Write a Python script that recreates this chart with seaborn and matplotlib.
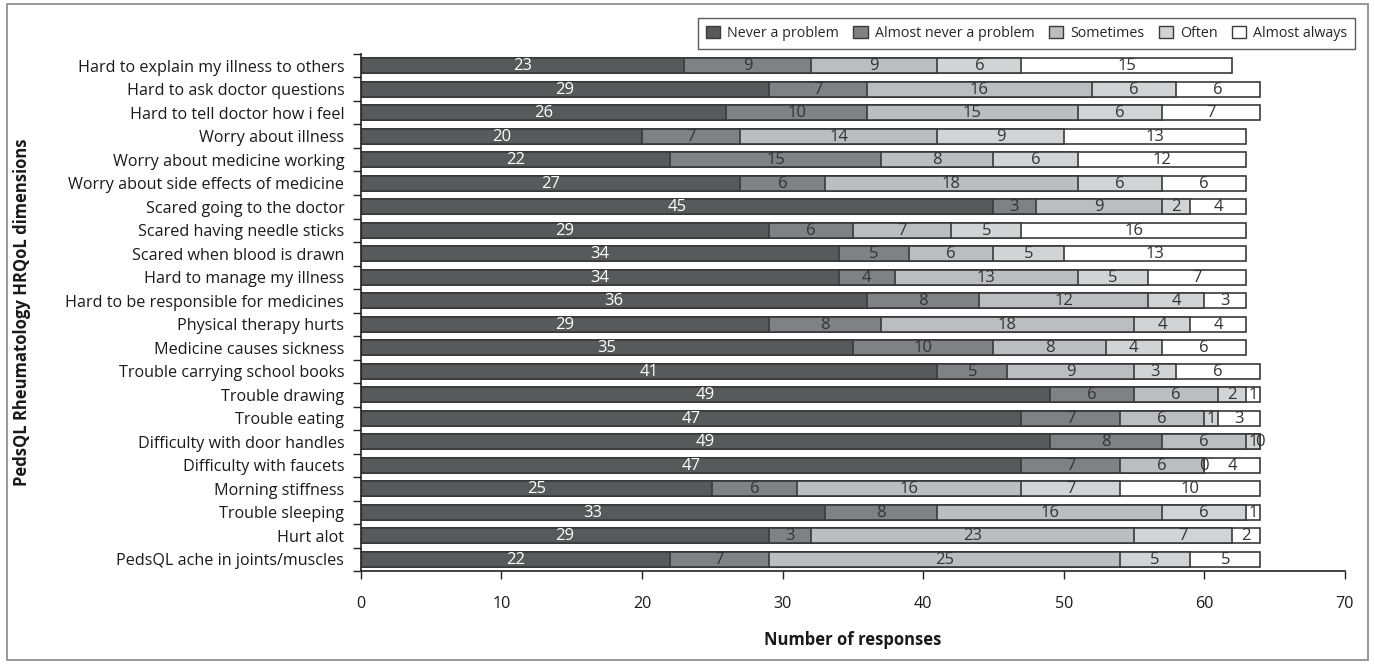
import matplotlib
matplotlib.use("Agg")
import matplotlib.pyplot as plt
from matplotlib.patches import Patch, Rectangle
import seaborn as sns
import pandas as pd
import numpy as np

items = [
    "Hard to explain my illness to others",
    "Hard to ask doctor questions",
    "Hard to tell doctor how i feel",
    "Worry about illness",
    "Worry about medicine working",
    "Worry about side effects of medicine",
    "Scared going to the doctor",
    "Scared having needle sticks",
    "Scared when blood is drawn",
    "Hard to manage my illness",
    "Hard to be responsible for medicines",
    "Physical therapy hurts",
    "Medicine causes sickness",
    "Trouble carrying school books",
    "Trouble drawing",
    "Trouble eating",
    "Difficulty with door handles",
    "Difficulty with faucets",
    "Morning stiffness",
    "Trouble sleeping",
    "Hurt alot",
    "PedsQL ache in joints/muscles",
]

never = [23, 29, 26, 20, 22, 27, 45, 29, 34, 34, 36, 29, 35, 41, 49, 47, 49, 47, 25, 33, 29, 22]
almost_never = [9, 7, 10, 7, 15, 6, 3, 6, 5, 4, 8, 8, 10, 5, 6, 7, 8, 7, 6, 8, 3, 7]
sometimes = [9, 16, 15, 14, 8, 18, 9, 7, 6, 13, 12, 18, 8, 9, 6, 6, 6, 6, 16, 16, 23, 25]
often = [6, 6, 6, 9, 6, 6, 2, 5, 5, 5, 4, 4, 4, 3, 2, 1, 1, 0, 7, 6, 7, 5]
almost_always = [15, 6, 7, 13, 12, 6, 4, 16, 13, 7, 3, 4, 6, 6, 1, 3, 0, 4, 10, 1, 2, 5]

levels = ["Never a problem", "Almost never a problem", "Sometimes", "Often", "Almost always"]
colors = ["#58595b", "#808184", "#bcbdc0", "#d2d3d5", "#ffffff"]

sns.set_theme(style="white")
plt.rcParams["font.family"] = ["Open Sans", "DejaVu Sans"]

series = [never, almost_never, sometimes, often, almost_always]
cum = np.cumsum(np.array(series), axis=0)

fig = plt.figure(figsize=(13.75, 6.64), dpi=100)
ax = fig.add_axes([0.2625, 0.140, 0.978 - 0.2625, 0.9187 - 0.140])

edge = "#3a3a3a"
# Draw cumulative totals from the outermost level inward so the segments stack
for k in range(len(levels) - 1, -1, -1):
    df = pd.DataFrame({"item": items, "total": cum[k]})
    sns.barplot(data=df, x="total", y="item", orient="h", color=colors[k],
                saturation=1, width=0.64, edgecolor=edge, linewidth=1.2,
                ax=ax, errorbar=None)

# Segment value labels
for k in range(len(levels)):
    start = cum[k] - np.array(series[k])
    for i, v in enumerate(series[k]):
        ax.text(start[i] + v / 2, i + 0.02, str(v), ha="center", va="center",
                fontsize=12, color="white" if k == 0 else "#333333")

ax.set_xlim(0, 70)
ax.set_ylim(len(items) - 0.5, -0.5)
ax.set_xticks(np.arange(0, 71, 10))
ax.set_yticks(np.arange(len(items)))
ax.set_yticklabels(items)
ax.set_yticks(np.arange(-0.5, len(items)), minor=True)
ax.tick_params(axis="y", which="major", length=0, pad=12, labelsize=11.6, labelcolor="#1a1a1a")
ax.tick_params(axis="y", which="minor", length=6, width=1, color="#222222", direction="out", left=True)
ax.tick_params(axis="x", which="major", length=6, width=1, color="#222222", direction="out",
               bottom=True, pad=12, labelsize=11.6, labelcolor="#1a1a1a")

for side in ["top", "right"]:
    ax.spines[side].set_visible(False)
for side in ["left", "bottom"]:
    ax.spines[side].set_color("#222222")
    ax.spines[side].set_linewidth(1.2)

ax.set_xlabel("Number of responses", fontsize=12, fontweight="bold", labelpad=14, color="#1a1a1a")
ax.set_ylabel("")
fig.text(0.016, 0.53, "PedsQL Rheumatology HRQoL dimensions", rotation=90, ha="center",
         va="center", fontsize=12, fontweight="bold", color="#1a1a1a")

handles = [Patch(facecolor=c, edgecolor=edge, linewidth=1.0) for c in colors]
leg = fig.legend(handles, levels, ncol=5, loc="upper right", bbox_to_anchor=(0.991, 0.984),
                 fontsize=10.3, frameon=True, fancybox=False, handlelength=1.0, handleheight=1.0,
                 handletextpad=0.5, columnspacing=1.0, borderpad=0.55)
leg.get_frame().set_edgecolor("#333333")
leg.get_frame().set_linewidth(1.0)

# Outer frame around the whole figure
fig.patches.append(Rectangle((0.005, 0.006), 0.99, 0.988, transform=fig.transFigure,
                             fill=False, edgecolor="#888888", linewidth=1.2))

fig.savefig("out.png", dpi=100)
